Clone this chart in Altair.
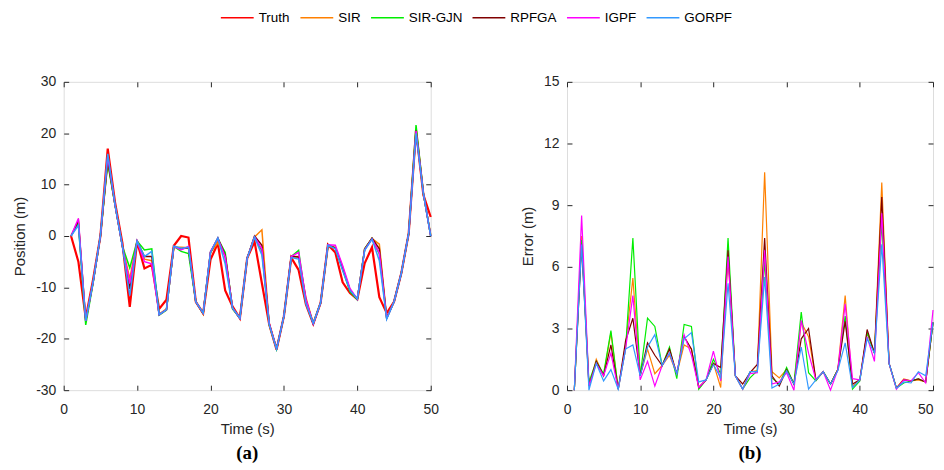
import altair as alt
import pandas as pd

time_s = list(range(1, 51))
series_names = ["Truth", "SIR", "SIR-GJN", "RPFGA", "IGPF", "GORPF"]
series_colors = ["#FF0000", "#FF8000", "#00EE00", "#800000", "#FF00FF", "#3399FF"]

# ---- Position (m), panel (a)
truth = [0, -5, -16, -8.5, 0, 17, 6.5, -1.4, -13.8, -1.1, -6.3, -5.6, -14.2, -12.4, -1.9, 0, -0.3, -12.8, -15, -4.6,
         -1.4, -10.6, -13.7, -16, -4.3, -1.1, -9.2, -17.2, -22.1, -15.6, -4.2, -6.6, -13.3, -17.1, -13, -1.7, -3.2, -9, -11.1, -12.3,
         -5.3, -2.2, -11.9, -15, -12.8, -7.2, 0.5, 20.5, 8, 3.7]
pos_sir = [0, 2.8, -16.5, -9, 0, 14.5, 6, -2, -8.3, -1, -4.5, -4.8, -15.2, -14.2, -2.2, -2.2, -2.3, -12.8, -15.2, -3.2,
           -1.3, -4, -14, -16, -4.3, -0.2, 1.2, -17.3, -22, -15.6, -4, -4, -12, -17, -13, -1.8, -2.2, -6, -10.5, -12.3,
           -2.5, -0.5, -1.6, -15.8, -12.8, -7.2, 0.5, 20.8, 8.2, 0.3]
pos_gjn = [0, 2.5, -17.3, -9.2, 0, 14.2, 6, -2, -6.2, -1, -2.7, -2.5, -15.4, -14.4, -2, -3, -3.4, -12.8, -15, -3.1,
           -0.5, -3.2, -14.2, -16, -4.3, -0.2, -2.9, -17.3, -22, -15.6, -4, -2.8, -12.8, -17, -13, -1.9, -2.3, -6.5, -10.8, -12.4,
           -2.5, -0.5, -3.5, -16, -12.8, -7.2, 0.5, 21.6, 8.3, 0]
pos_rpfga = [0, 3, -16.5, -9, 0, 14.8, 6, -2, -10.3, -1, -4, -4, -15.3, -14.3, -2, -2.5, -2.3, -12.8, -15.1, -3.2,
             -0.4, -3.8, -14, -16, -4.3, 0, -1.8, -17.1, -22, -15.6, -4, -4.1, -12.5, -17.1, -13, -1.7, -2.4, -6.3, -10.5, -12.3,
             -2.6, -0.4, -2.5, -16, -12.8, -7.2, 0.5, 20.5, 8.3, 0]
pos_igpf = [0, 3.4, -16.5, -9, 0, 15.5, 6, -2, -9.2, -1, -5, -5.4, -15.3, -14.3, -2, -2.7, -2, -12.8, -15, -3,
            -0.5, -4, -14, -16, -4.3, -0.2, -2.5, -17.1, -22, -15.6, -4, -3.2, -12.3, -17.1, -13, -1.7, -1.8, -5.8, -10.2, -12.3,
            -2.7, -0.6, -3.3, -16, -12.8, -7.2, 0.5, 20.4, 8.3, 0]
pos_gorpf = [0, 2.1, -16.5, -9, 0, 16, 6, -2, -11.6, -1, -4, -3, -15.3, -14.3, -2, -2.4, -2.2, -12.8, -15, -3.2,
             -0.4, -5.4, -14, -16, -4.3, -0.2, -3.7, -17.2, -22, -15.6, -4.2, -4.5, -13.2, -17, -13, -1.8, -2.5, -6.7, -10.6, -12.2,
             -2.8, -0.6, -4.8, -16.2, -12.8, -7.2, 0.5, 20, 8.3, 0]

# ---- Error (m), panel (b)
err_sir = [0, 7.5, 0.2, 1.5, 0.7, 2.8, 0.05, 2.2, 5.45, 0.7, 2.0, 0.8, 1.2, 1.7, 0.8, 2.2, 2.0, 0.13, 0.5, 1.3,
           0.13, 6.5, 0.7, 0.05, 0.9, 0.95, 10.6, 0.9, 0.6, 1.0, 0.3, 3.3, 2.6, 0.5, 0.9, 0.3, 1.0, 4.6, 0.2, 0.5,
           2.8, 1.8, 10.1, 1.3, 0.1, 0.55, 0.45, 0.5, 0.4, 3.3]
err_gjn = [0, 7.3, 0.4, 1.4, 0.8, 2.9, 0.05, 2.0, 7.4, 0.7, 3.5, 3.1, 1.2, 2.1, 0.56, 3.2, 3.1, 0.05, 0.5, 1.5,
           0.8, 7.4, 0.7, 0.05, 0.6, 0.95, 6.3, 0.6, 0.3, 1.1, 0.3, 3.8, 0.85, 0.45, 0.9, 0.3, 1.0, 3.6, 0.05, 0.45,
           2.8, 1.8, 8.2, 1.3, 0.1, 0.35, 0.45, 0.55, 0.4, 3.3]
err_rpfga = [0, 7.1, 0.2, 1.4, 0.7, 2.2, 0.05, 2.4, 3.5, 0.7, 2.3, 1.7, 1.2, 2.0, 0.8, 2.6, 2.0, 0.13, 0.5, 1.3,
             1.1, 6.8, 0.7, 0.3, 0.85, 1.25, 7.4, 0.7, 0.2, 1.0, 0.3, 2.5, 3.0, 0.5, 0.9, 0.3, 1.0, 3.35, 0.3, 0.5,
             2.95, 1.8, 9.4, 1.3, 0.1, 0.5, 0.45, 0.55, 0.4, 3.3]
err_igpf = [0, 8.5, 0.2, 1.3, 0.7, 1.8, 0.05, 2.0, 4.6, 0.5, 1.4, 0.2, 1.2, 1.8, 0.8, 2.7, 1.7, 0.13, 0.5, 1.9,
            0.45, 6.5, 0.7, 0.05, 0.8, 0.85, 6.8, 0.3, 0.4, 0.85, 0.0, 3.4, 1.8, 0.5, 0.9, 0.0, 1.0, 4.2, 0.56, 0.5,
            2.6, 1.4, 8.6, 1.3, 0.05, 0.5, 0.45, 0.85, 0.35, 3.9]
err_gorpf = [0, 7.1, 0.0, 1.3, 0.45, 1.0, 0.05, 2.0, 2.2, 0.7, 2.1, 2.7, 1.2, 1.8, 0.8, 2.5, 2.8, 0.4, 0.5, 1.25,
             0.6, 5.2, 0.7, 0.05, 0.9, 0.9, 5.5, 0.1, 0.3, 0.95, 0.3, 2.1, 0.05, 0.5, 0.9, 0.3, 0.95, 2.3, 0.13, 0.5,
             2.5, 1.8, 7.1, 1.3, 0.1, 0.4, 0.35, 0.9, 0.7, 3.3]

x_ticks = [0, 10, 20, 30, 40, 50]
pos_ticks = [-30, -20, -10, 0, 10, 20, 30]
err_ticks = [0, 3, 6, 9, 12, 15]


def long_df(names, arrays):
    rows = []
    for k, (n, arr) in enumerate(zip(names, arrays)):
        for t, v in zip(time_s, arr):
            rows.append({"t": t, "v": v, "series": n, "k": k})
    return pd.DataFrame(rows)


truth_df = long_df(["Truth"], [truth])
pos_df = long_df(series_names[1:], [pos_sir, pos_gjn, pos_rpfga, pos_igpf, pos_gorpf])
err_df = long_df(series_names[1:], [err_sir, err_gjn, err_rpfga, err_igpf, err_gorpf])

INK = "#262626"
FONT = "Liberation Sans"

color_scale = alt.Scale(domain=series_names, range=series_colors)
legend = alt.Legend(orient="none", legendX=157, legendY=-82, direction="horizontal", title=None,
                    symbolType="stroke", symbolSize=1089, symbolStrokeWidth=1.5,
                    labelFontSize=13.5, labelFont=FONT, labelColor="#000000", labelOffset=4,
                    columnPadding=7, padding=0)
color_enc = alt.Color("series:N", scale=color_scale, legend=legend, sort=series_names)


def axis_main(orient, values, title_pad, label_pad, align_last=False):
    kw = {}
    if align_last:
        kw["labelAlign"] = alt.condition("datum.value == 50", alt.value("right"), alt.value("center"))
    return alt.Axis(orient=orient, values=values, offset=-5, tickSize=5, domain=False, grid=False,
                    labelPadding=label_pad, titlePadding=title_pad, labelFontSize=14, titleFontSize=15,
                    labelFont=FONT, titleFont=FONT, labelColor=INK, titleColor=INK, tickColor=INK,
                    titleFontWeight="normal", labelFlush=False, labelOverlap=False,
                    labelExpr="'' + datum.value", **kw)


def axis_ghost(orient, values):
    return alt.Axis(orient=orient, values=values, offset=-5, tickSize=5, domain=False, grid=False,
                    labels=False, tickColor=INK)


def panel(lines_df, extra_df, y_domain, y_ticks, y_title, caption, width, align_last):
    xs = alt.Scale(domain=[0, 50], nice=False, zero=False)
    ys = alt.Scale(domain=y_domain, nice=False, zero=False)
    x_main = alt.X("t:Q", scale=xs, axis=axis_main("bottom", x_ticks, 6, 12, align_last), title="Time (s)")
    y_main = alt.Y("v:Q", scale=ys, axis=axis_main("left", y_ticks, 8, 8), title=y_title)
    layers = []
    if extra_df is not None:
        layers.append(alt.Chart(extra_df).mark_line(strokeWidth=2.2).encode(
            x=x_main, y=y_main, color=color_enc, order="t:Q"))
    sw = 1.5 if extra_df is not None else 1.2
    layers.append(alt.Chart(lines_df).mark_line(strokeWidth=sw).encode(
        x=x_main, y=y_main, color=color_enc, detail="k:O", order="t:Q"))
    ghost = alt.Chart(lines_df).mark_line(opacity=0).encode(
        x=alt.X("t:Q", scale=xs, axis=axis_ghost("top", x_ticks), title=None),
        y=alt.Y("v:Q", scale=ys, axis=axis_ghost("right", y_ticks), title=None))
    main = alt.layer(*layers)
    ch = alt.layer(main, ghost).resolve_axis(x="independent", y="independent").properties(
        width=width, height=310,
        title=alt.TitleParams(caption, orient="bottom", font="Liberation Serif", fontWeight="bold",
                              fontSize=19, color="#000000", offset=7, anchor="middle"))
    return ch


left = panel(pos_df, truth_df, [-30, 30], pos_ticks, "Position (m)", "(a)", 369, False)
right = panel(err_df, None, [0, 15], err_ticks, "Error (m)", "(b)", 368, True)

chart = alt.hconcat(left, right, spacing=80).resolve_scale(color="shared").properties(
    padding={"left": 4, "top": -9, "right": 0, "bottom": 0}
).configure_view(stroke=INK, strokeWidth=1).configure(background="white")

chart.save("out.html", embed_options={"renderer": "svg", "actions": False})
